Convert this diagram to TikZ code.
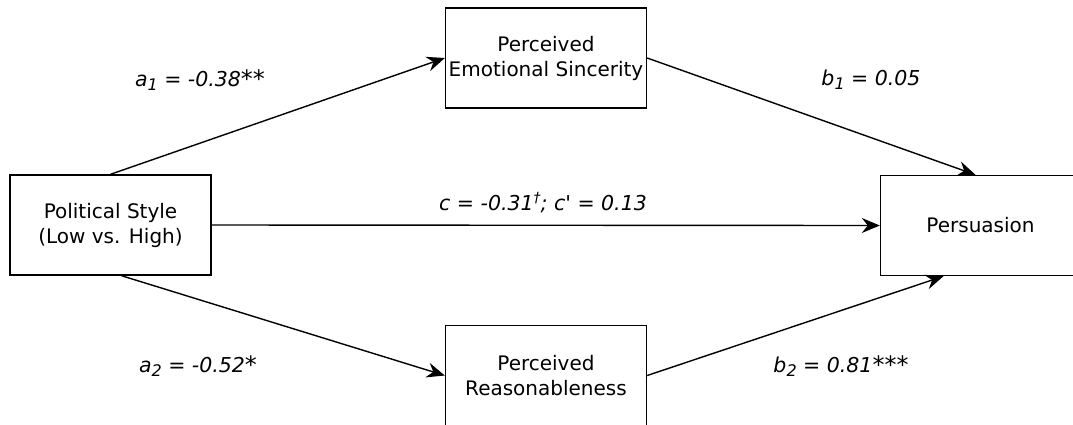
\documentclass[tikz,border=0pt]{standalone}
\usepackage{fontspec}
\setmainfont{DejaVu Sans}
\newfontfamily\nomapfont{DejaVu Sans Oblique}
\usetikzlibrary{arrows.meta}
\newcommand{\sbs}[1]{\raisebox{-0.35ex}{\fontsize{16}{16}\selectfont #1}}
\newcommand{\sps}[1]{\raisebox{0.7ex}{\fontsize{14}{14}\selectfont #1}}
\newcommand{\myast}{\raisebox{-0.15ex}{\fontsize{24}{24}\selectfont *}}
\begin{document}
\begin{tikzpicture}[x=1pt,y=1pt,
  box/.style={draw, line width=1.4pt, minimum width=201pt, minimum height=100pt,
    align=center, inner sep=0pt, font=\fontsize{20}{25}\selectfont},
  lbl/.style={font=\fontsize{20.5}{25}\selectfont\itshape, inner sep=0pt},
  arr/.style={line width=1.4pt, -{Stealth[length=18pt, width=15pt, inset=6pt]}}]
\useasboundingbox (0,0) rectangle (1073,-424);
\node[box] (ps) at (110.5,-225) {Political Style\\(Low vs. High)};
\node[box] (pes) at (546,-58) {Perceived\\Emotional Sincerity};
\node[box] (pr) at (546,-375.5) {Perceived\\Reasonableness};
\node[box, minimum width=200pt] (pers) at (980.5,-225.5) {Persuasion};
\draw[arr] (ps.north) -- (pes.west);
\draw[arr] ([xshift=11pt]ps.south) -- (pr.west);
\draw[arr] (ps.east) -- (pers.west);
\draw[arr] (pes.east) -- ([xshift=-5pt]pers.north);
\draw[arr] (pr.east) -- ([xshift=-37pt]pers.south);
\node[lbl] (la1) at (200,-80) {a\sbs{1} = -0.38\myast\myast};
\node[lbl] (lb1) at (871,-80) {b\sbs{1} = 0.05};
\node[lbl] (lc) at (543,-203) {c = -0.31\sps{†}; c{\nomapfont '} = 0.13};
\node[lbl] (la2) at (198,-366) {a\sbs{2} = -0.52\myast};
\node[lbl] (lb2) at (841,-366) {b\sbs{2} = 0.81\myast\myast\myast};
\end{tikzpicture}
\end{document}
